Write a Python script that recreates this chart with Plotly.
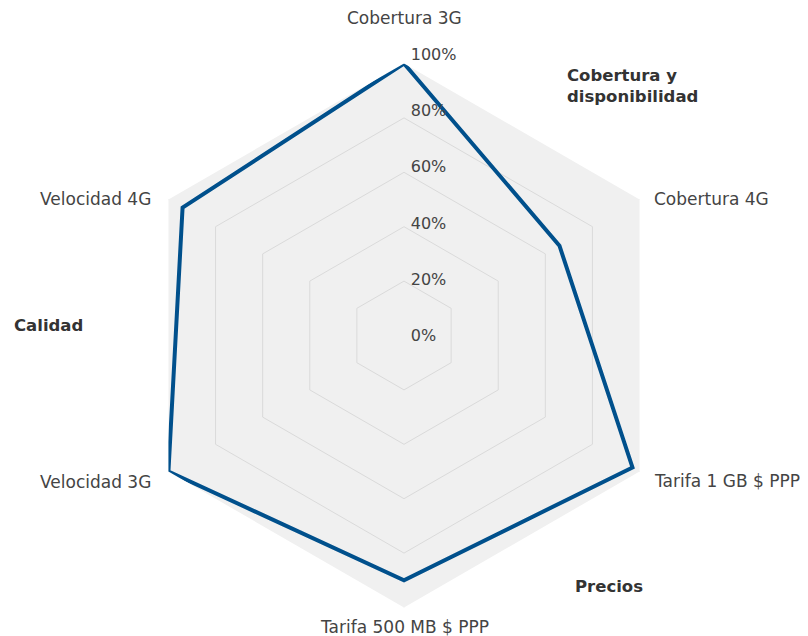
import math
import plotly.graph_objects as go

categories = ["Cobertura 3G", "Cobertura 4G", "Tarifa 1 GB $ PPP",
              "Tarifa 500 MB $ PPP", "Velocidad 3G", "Velocidad 4G"]
values = [100, 66, 97, 90, 100, 94]
tick_vals = [0, 20, 40, 60, 80, 100]
tick_text = ["0%", "20%", "40%", "60%", "80%", "100%"]
group_labels = ["Cobertura y<br>disponibilidad", "Calidad", "Precios"]

FONT = "DejaVu Sans, Verdana, sans-serif"
W, H = 808, 636
OFF = 8  # page offset of the figure in the screenshot
CX, CY, R = 404 - OFF, 335.5 - OFF, 272  # pixel layout of the polar area
R2 = 280.4  # labels sit slightly above each ring, as in the source


def domain(rad):
    return dict(x=[(CX - rad) / W, (CX + rad) / W],
                y=[(H - CY - rad) / H, (H - CY + rad) / H])


fig = go.Figure()
fig.add_trace(go.Scatterpolar(
    r=values + values[:1],
    theta=categories + categories[:1],
    mode="lines",
    line=dict(color="#00508c", width=4),
    showlegend=False,
    hoverinfo="skip",
))
# overlay subplot that carries the percentage labels
fig.add_trace(go.Scatterpolar(
    r=[], theta=[], mode="lines", subplot="polar2",
    showlegend=False, hoverinfo="skip",
))

fig.update_layout(
    width=W, height=H,
    margin=dict(l=0, r=0, t=0, b=0),
    paper_bgcolor="white",
    font=dict(family=FONT, size=16, color="#444444"),
    polar=dict(
        domain=domain(R),
        bgcolor="#f0f0f0",
        gridshape="linear",
        angularaxis=dict(
            rotation=90, direction="clockwise",
            showline=False, gridcolor="#f0f0f0", ticks="",
            showticklabels=False,
        ),
        radialaxis=dict(
            range=[0, 100], tickvals=tick_vals,
            angle=90, showline=False, ticks="", showticklabels=False,
            gridcolor="#dadada", gridwidth=1,
        ),
    ),
    polar2=dict(
        domain=domain(R2),
        bgcolor="rgba(0,0,0,0)",
        angularaxis=dict(visible=False),
        radialaxis=dict(
            range=[0, 100], tickvals=tick_vals, ticktext=tick_text,
            angle=90, tickangle=90, showline=False, showgrid=False,
            ticks="outside", ticklen=3, tickcolor="rgba(0,0,0,0)",
            tickfont=dict(size=16, color="#444444", family=FONT),
        ),
    ),
)

# category labels placed around the hexagon: (horizontal pad, vertical shift)
label_pads = [(0, -45), (12.5, -1), (12, 10), (0, 19), (-15.5, 10), (-15.5, -1)]
n = len(categories)
for i, (cat, (padx, pady)) in enumerate(zip(categories, label_pads)):
    ang = math.pi / 2 - 2 * math.pi * i / n
    px = CX + R * math.cos(ang) + padx
    py = CY - R * math.sin(ang) + pady
    c = math.cos(ang)
    xa = "center" if abs(c) < 0.1 else ("left" if c > 0 else "right")
    fig.add_annotation(
        x=px / W, y=1 - py / H, xref="paper", yref="paper",
        text=cat, showarrow=False, xanchor=xa, yanchor="middle",
        font=dict(size=17, color="#444444", family=FONT),
    )

positions = [(565, 86), (12, 325), (573, 586)]
for text, (x, y) in zip(group_labels, positions):
    fig.add_annotation(
        x=(x - OFF) / W, y=1 - (y - OFF) / H, xref="paper", yref="paper",
        text="<b>" + text + "</b>", showarrow=False,
        xanchor="left", yanchor="middle", align="left",
        font=dict(size=16.5, color="#333333", family=FONT),
    )

fig.write_html("out.html")
